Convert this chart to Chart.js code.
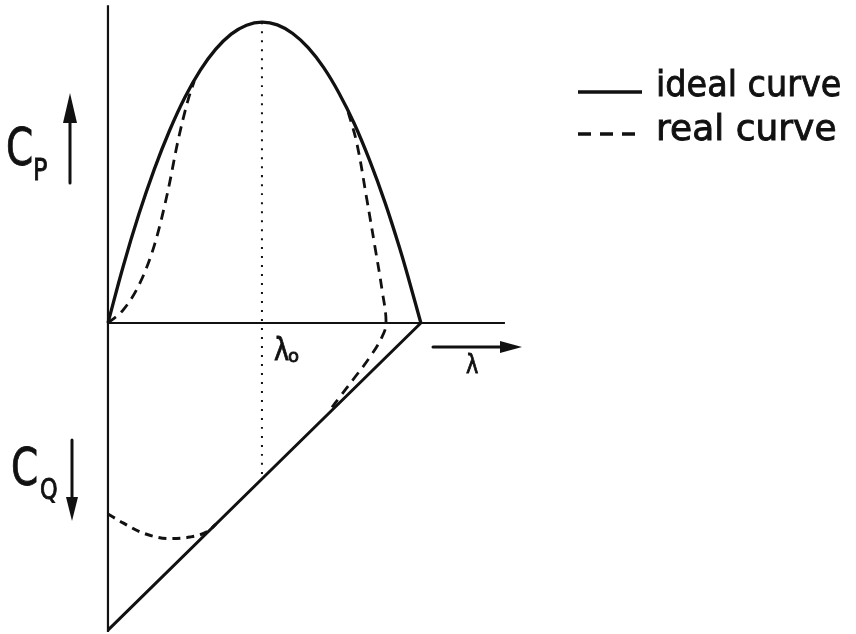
<!DOCTYPE html>
<html>
<head>
<meta charset="utf-8">
<script src="https://cdn.jsdelivr.net/npm/chart.js@4/dist/chart.umd.min.js"></script>
<style>
  html, body { margin: 0; padding: 0; background: #fff; }
  #wrap { width: 856px; height: 634px; position: relative; }
</style>
</head>
<body>
<div id="wrap"><canvas id="chartCurves"></canvas></div>
<script>
// tip speed ratio at which the ideal Cp peaks
const lambda0 = 5.0;

// ideal power coefficient, Cp(λ)
const idealCpX = [0, 0.5, 1, 1.5, 2, 2.5, 3, 3.5, 4, 4.5, 5, 5.5, 6, 6.5, 7, 7.5, 8, 8.5, 9, 9.5, 9.8, 10.16];
const idealCpY = [0, 1.86, 3.52, 4.98, 6.25, 7.33, 8.21, 8.89, 9.38, 9.67, 9.77, 9.68, 9.40, 8.94, 8.30, 7.47, 6.47, 5.27, 3.90, 2.34, 1.30, 0];

// ideal torque coefficient, drawn downwards (straight line)
const idealCqX = [10.16, 0];
const idealCqY = [0, -9.97];

// real curve, rising branch of Cp
const realRiseX = [0, 0.49, 1.04, 1.53, 1.95, 2.27, 2.60, 2.80];
const realRiseY = [0, 0.42, 1.30, 2.60, 4.30, 5.90, 7.24, 7.85];

// real curve, falling branch of Cp running on into CQ
const realFallX = [7.80, 8.08, 8.41, 8.67, 8.90, 9.03, 8.90, 8.51, 7.95, 7.53, 7.21];
const realFallY = [6.85, 5.84, 3.99, 2.47, 1.07, 0, -0.45, -1.10, -1.85, -2.40, -2.82];

// real CQ at low λ
const realCqX = [0, 0.49, 1.14, 2.01, 2.66, 3.21, 3.50];
const realCqY = [-6.20, -6.49, -6.82, -7.00, -6.95, -6.78, -6.54];

// axis extents
const axisTop = 10.32;
const axisBottom = -10.03;
const axisRight = 12.89;

const toPoints = (xs, ys) => xs.map((x, i) => ({ x: x, y: ys[i] }));

const lambda0Cq = idealCqY[1] * (idealCqX[0] - lambda0) / idealCqX[0];

const ink = "#111";

function line(data, width, dash, monotone) {
  return {
    data: data,
    borderColor: ink,
    borderWidth: width,
    borderDash: dash || [],
    pointRadius: 0,
    tension: 0.4,
    cubicInterpolationMode: monotone ? "monotone" : "default",
    fill: false,
  };
}

function arrowHead(ctx, x, y, dir, len, half) {
  ctx.beginPath();
  if (dir === "up") {
    ctx.moveTo(x, y); ctx.lineTo(x - half, y + len); ctx.lineTo(x + half, y + len);
  } else if (dir === "down") {
    ctx.moveTo(x, y); ctx.lineTo(x - half, y - len); ctx.lineTo(x + half, y - len);
  } else {
    ctx.moveTo(x, y); ctx.lineTo(x - len, y - half); ctx.lineTo(x - len, y + half);
  }
  ctx.closePath();
  ctx.fill();
}

// text drawn a bit narrower and heavier, like lettering
function letter(ctx, txt, x, y, size, squeeze) {
  ctx.save();
  ctx.translate(x, y);
  ctx.scale(squeeze, 1);
  ctx.font = size + "px 'DejaVu Sans'";
  ctx.lineWidth = 0.9;
  ctx.fillText(txt, 0, 0);
  ctx.strokeText(txt, 0, 0);
  ctx.restore();
}

// axis names, arrows and the little legend
const labelsPlugin = {
  id: "labels",
  afterDatasetsDraw(chart) {
    const ctx = chart.ctx;
    const sx = chart.scales.x;
    ctx.save();
    ctx.fillStyle = ink;
    ctx.strokeStyle = ink;
    ctx.lineCap = "round";
    ctx.textBaseline = "alphabetic";

    // C_P with upward arrow
    letter(ctx, "C", 6, 165, 52, 0.75);
    letter(ctx, "P", 33, 180, 30, 0.8);
    ctx.lineWidth = 3;
    ctx.beginPath(); ctx.moveTo(70, 183); ctx.lineTo(70, 110); ctx.stroke();
    arrowHead(ctx, 70, 93, "up", 30, 7);

    // C_Q with downward arrow
    letter(ctx, "C", 11, 485, 52, 0.75);
    letter(ctx, "Q", 40, 499, 28, 0.8);
    ctx.lineWidth = 3;
    ctx.beginPath(); ctx.moveTo(72, 440); ctx.lineTo(72, 505); ctx.stroke();
    arrowHead(ctx, 72, 521, "down", 24, 6);

    // λ0 under the axis
    const x0 = sx.getPixelForValue(lambda0);
    letter(ctx, "λ", x0 + 12, 360, 32, 0.8);
    letter(ctx, "o", x0 + 26, 362, 18, 1);

    // λ direction arrow
    ctx.lineWidth = 3;
    ctx.beginPath(); ctx.moveTo(433, 347); ctx.lineTo(505, 347); ctx.stroke();
    arrowHead(ctx, 522, 347, "right", 22, 6);
    letter(ctx, "λ", 466, 373, 26, 0.8);

    // legend
    const items = [
      { text: "ideal curve", ds: chart.data.datasets[2], y: 92, base: 96, squeeze: 0.93 },
      { text: "real curve", ds: chart.data.datasets[4], y: 134, base: 140, squeeze: 1.0 },
    ];
    items.forEach((it) => {
      ctx.lineWidth = 3.5;
      ctx.lineCap = "butt";
      ctx.setLineDash(it.ds.borderDash.length ? [13, 9] : []);
      ctx.beginPath(); ctx.moveTo(578, it.y); ctx.lineTo(642, it.y); ctx.stroke();
      ctx.setLineDash([]);
      letter(ctx, it.text, 656, it.base, 36, it.squeeze);
    });
    ctx.restore();
  },
};

new Chart(document.getElementById("chartCurves"), {
  type: "line",
  data: {
    datasets: [
      line([{ x: 0, y: axisTop }, { x: 0, y: axisBottom }], 2.2),
      line([{ x: 0, y: 0 }, { x: axisRight, y: 0 }], 2.2),
      line(toPoints(idealCpX, idealCpY), 3.3),
      line(toPoints(idealCqX, idealCqY), 3),
      line(toPoints(realRiseX, realRiseY), 2.8, [10, 7], true),
      line(toPoints(realFallX, realFallY), 2.8, [10, 7]),
      line(toPoints(realCqX, realCqY), 3, [8, 6], true),
      line([{ x: lambda0, y: idealCpY[10] }, { x: lambda0, y: lambda0Cq }], 2, [2, 7]),
    ],
  },
  options: {
    responsive: true,
    maintainAspectRatio: false,
    animation: false,
    layout: { padding: 0 },
    plugins: {
      legend: { display: false },
      tooltip: { enabled: false },
    },
    scales: {
      x: { type: "linear", display: false, min: -3.506, max: 24.29 },
      y: { type: "linear", display: false, min: -10.097, max: 10.487 },
    },
  },
  plugins: [labelsPlugin],
});
</script>
</body>
</html>
